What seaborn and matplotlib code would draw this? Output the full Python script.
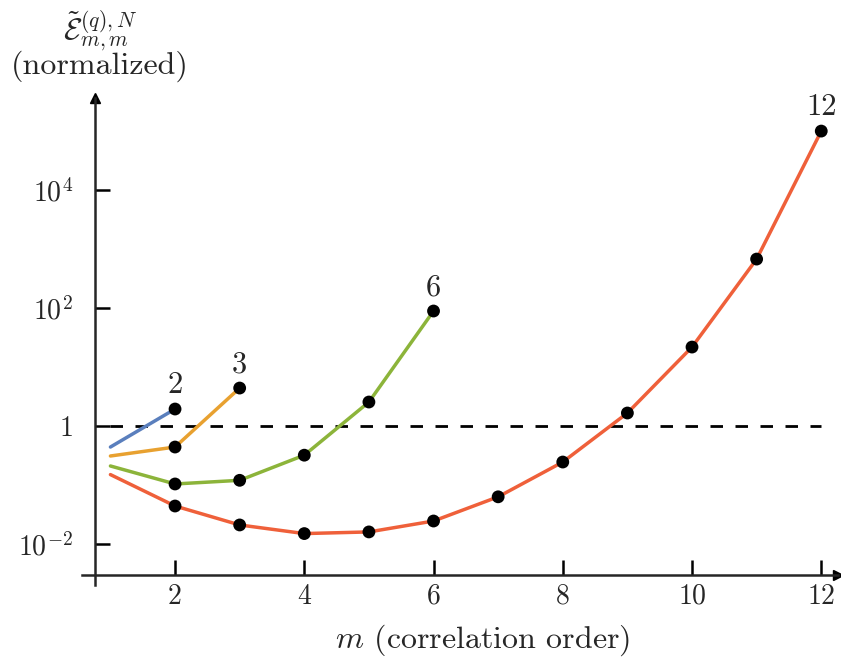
import numpy as np
import pandas as pd
import matplotlib
matplotlib.use("Agg")
import matplotlib.pyplot as plt
import seaborn as sns

# ==========================================================
# DATA
# ==========================================================

m_2 = [1, 2]
err_2 = [0.44, 1.94]

m_3 = [1, 2, 3]
err_3 = [0.31, 0.44, 4.4]

m_6 = [1, 2, 3, 4, 5, 6]
err_6 = [0.21, 0.104, 0.12, 0.32, 2.55, 89]

m_12 = [1, 2, 3, 4, 5, 6, 7, 8, 9, 10, 11, 12]
err_12 = [0.15, 0.044, 0.021, 0.015, 0.016, 0.0245, 0.063, 0.245, 1.66, 21.8, 676, 1.0e5]

N_VALUES = [2, 3, 6, 12]
COLORS = {2: "#5a7fbd", 3: "#e8a130", 6: "#8cb43a", 12: "#ef603a"}

Y_TICKS = [1e-2, 1, 1e2, 1e4]
Y_TICK_LABELS = [r"$10^{-2}$", r"$1$", r"$10^{2}$", r"$10^{4}$"]
X_TICKS = [2, 4, 6, 8, 10, 12]

# ==========================================================
# BUILD TABLE
# ==========================================================

frames = []
for N, ms, errs in zip(N_VALUES, [m_2, m_3, m_6, m_12], [err_2, err_3, err_6, err_12]):
    frames.append(pd.DataFrame({"m": ms, "err": errs, "N": N}))
df = pd.concat(frames, ignore_index=True)

# ==========================================================
# STYLE
# ==========================================================

sns.set_style("white")
plt.rcParams["font.family"] = "serif"
plt.rcParams["font.serif"] = ["cmr10", "DejaVu Serif"]
plt.rcParams["mathtext.fontset"] = "cm"
plt.rcParams["axes.unicode_minus"] = False

fig = plt.figure(figsize=(8.41, 6.67), dpi=100)
ax = fig.add_axes([0.0975, 0.123, 0.899, 0.730])

# ==========================================================
# PLOT
# ==========================================================

sns.lineplot(data=df, x="m", y="err", hue="N", palette=COLORS,
             linewidth=2.5, legend=False, ax=ax, zorder=2)
sns.scatterplot(data=df[df["m"] >= 2], x="m", y="err", color="black",
                s=85, edgecolor="none", legend=False, ax=ax, zorder=3)

ax.plot([1, 12], [1, 1], color="black", linestyle=(0, (4.5, 4.5)), linewidth=2.0, zorder=1)

# end labels
for N, ms, errs in zip(N_VALUES, [m_2, m_3, m_6, m_12], [err_2, err_3, err_6, err_12]):
    ax.annotate(str(N), (ms[-1], errs[-1]), xytext=(0, 7), textcoords="offset points",
                ha="center", va="bottom", fontsize=22)

ax.set_yscale("log")
ax.set_xlim(0.56, 12.26)
ax.set_ylim(10 ** -2.695, 10 ** 5.56)

# axes as arrows through data positions
y_axis_x = 0.76
x_axis_y = 10 ** -2.525
for side in ["top", "right"]:
    ax.spines[side].set_visible(False)
ax.spines["left"].set_position(("data", y_axis_x))
ax.spines["bottom"].set_position(("data", x_axis_y))
ax.spines["left"].set_linewidth(1.8)
ax.spines["bottom"].set_linewidth(1.8)
ax.plot(1, x_axis_y, ">k", markersize=7, transform=ax.get_yaxis_transform(), clip_on=False)
ax.plot(y_axis_x, 1, "^k", markersize=7, transform=ax.get_xaxis_transform(), clip_on=False)

ax.set_xticks(X_TICKS)
ax.set_xticklabels([str(t) for t in X_TICKS])
ax.set_yticks(Y_TICKS)
ax.set_yticklabels(Y_TICK_LABELS)
ax.yaxis.set_minor_locator(matplotlib.ticker.NullLocator())
ax.tick_params(axis="both", which="major", bottom=True, left=True, direction="in",
               length=11, width=1.8, labelsize=20, color="black")
ax.tick_params(axis="y", pad=16)
ax.tick_params(axis="x", pad=6)

ax.set_xlabel("")
ax.set_ylabel("")
fig.text(0.574, 0.04, r"$m$ (correlation order)", ha="center", va="center", fontsize=23)
fig.text(0.119, 0.953, r"$\tilde{\mathcal{E}}^{(q),N}_{m,m}$", ha="center", va="center", fontsize=22)
fig.text(0.119, 0.9, "(normalized)", ha="center", va="center", fontsize=23)

fig.savefig("out.png", dpi=100)
